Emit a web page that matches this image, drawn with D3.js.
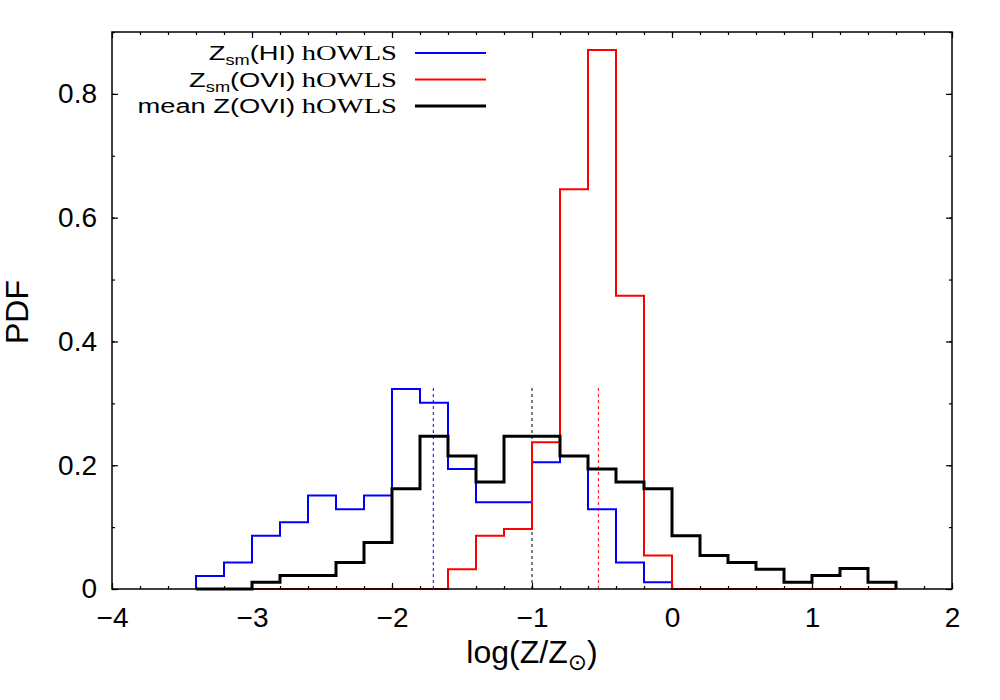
<!DOCTYPE html>
<html>
<head>
<meta charset="utf-8">
<script src="https://cdn.jsdelivr.net/npm/d3@7"></script>
<style>
  body { margin: 0; background: #fff; }
  text { fill: #000; }
  .sans { font-family: "Liberation Sans", Arial, sans-serif; }
  .serif { font-family: "Liberation Serif", "Times New Roman", "DejaVu Serif", serif; }
</style>
</head>
<body>
<div id="chart"></div>
<script>
// bin left edges (bin width 0.2)
var edgesHI  = [-3.4, -3.2, -3.0, -2.8, -2.6, -2.4, -2.2, -2.0, -1.8, -1.6, -1.4, -1.2, -1.0, -0.8, -0.6, -0.4, -0.2];
var edgesOVI = [-3.0, -2.8, -2.6, -2.4, -2.2, -2.0, -1.8, -1.6, -1.4, -1.2, -1.0, -0.8, -0.6, -0.4, -0.2,
                0.0, 0.2, 0.4, 0.6, 0.8, 1.0, 1.2, 1.4];
var edgesMean = [-3.4, -3.2, -3.0, -2.8, -2.6, -2.4, -2.2, -2.0, -1.8, -1.6, -1.4, -1.2, -1.0, -0.8, -0.6, -0.4, -0.2,
                 0.0, 0.2, 0.4, 0.6, 0.8, 1.0, 1.2, 1.4];
var binWidth = 0.2;

// PDF values
var pdfHI   = [0.021, 0.043, 0.086, 0.108, 0.151, 0.129, 0.151, 0.323, 0.301, 0.194, 0.140, 0.140, 0.205, 0.215, 0.129, 0.043, 0.011];
var pdfOVI  = [0, 0, 0, 0, 0, 0, 0, 0.032, 0.086, 0.097, 0.237, 0.646, 0.871, 0.474, 0.054,
               0, 0, 0, 0, 0, 0, 0, 0];
var pdfMean = [0, 0, 0.011, 0.022, 0.022, 0.043, 0.075, 0.162, 0.247, 0.215, 0.173, 0.247, 0.247, 0.215, 0.194, 0.173, 0.162,
               0.086, 0.054, 0.043, 0.032, 0.011, 0.022, 0.033, 0.011];

// median markers
var medianX = [-1.705, -1.0, -0.526];
var medianColor = ["#0000ff", "#000000", "#ff0000"];
var medianTop = 0.325;

var xTicks = [-4, -3, -2, -1, 0, 1, 2];
var yTicks = [0, 0.2, 0.4, 0.6, 0.8];

var width = 1000, height = 700;
var svg = d3.select("#chart").append("svg")
    .attr("width", width)
    .attr("height", height);

var x = d3.scaleLinear().domain([-4, 2]).range([112, 952]);
var y = d3.scaleLinear().domain([0, 0.9]).range([589, 32]);

// ticks (inward, mirrored)
function minorX() { return d3.range(-4, 2.001, 0.2).map(function(d){ return Math.round(d*10)/10; }); }
function minorY() { return d3.range(0, 0.901, 0.1).map(function(d){ return Math.round(d*10)/10; }); }

svg.append("g").attr("transform", "translate(0,589)")
    .call(d3.axisBottom(x).tickValues(minorX()).tickSize(-3).tickFormat(""));
svg.append("g").attr("transform", "translate(0,32)")
    .call(d3.axisTop(x).tickValues(minorX()).tickSize(-3).tickFormat(""));
svg.append("g").attr("transform", "translate(112,0)")
    .call(d3.axisLeft(y).tickValues(minorY()).tickSize(-3).tickFormat(""));
svg.append("g").attr("transform", "translate(952,0)")
    .call(d3.axisRight(y).tickValues(minorY()).tickSize(-3).tickFormat(""));

var xAxis = svg.append("g").attr("class", "xaxis").attr("transform", "translate(0,589)")
    .call(d3.axisBottom(x).tickValues(xTicks).tickSize(-6).tickPadding(18)
        .tickFormat(function(d){ return d < 0 ? "\u2212" + Math.abs(d) : d; }));
svg.append("g").attr("transform", "translate(0,32)")
    .call(d3.axisTop(x).tickValues(xTicks).tickSize(-6).tickFormat(""));
var yAxis = svg.append("g").attr("class", "yaxis").attr("transform", "translate(112,0)")
    .call(d3.axisLeft(y).tickValues(yTicks).tickSize(-6).tickPadding(15)
        .tickFormat(function(d){ return d === 0 ? "0" : d3.format(".1f")(d); }));
svg.append("g").attr("transform", "translate(952,0)")
    .call(d3.axisRight(y).tickValues(yTicks).tickSize(-6).tickFormat(""));

svg.selectAll(".domain").remove();
svg.selectAll(".tick line").attr("stroke", "#000").attr("stroke-width", 1.2);
svg.selectAll(".xaxis text, .yaxis text")
    .attr("font-family", null)
    .attr("class", "sans")
    .style("font-size", "28px")
    .attr("fill", "#000");

// median dashed lines
svg.append("g").selectAll("line")
    .data(medianX)
    .enter().append("line")
    .attr("x1", function(d){ return x(d); })
    .attr("x2", function(d){ return x(d); })
    .attr("y1", y(0))
    .attr("y2", y(medianTop))
    .attr("stroke", function(d, i){ return medianColor[i]; })
    .attr("stroke-width", 1)
    .attr("stroke-dasharray", "3,3");

// histogram outlines
function stepPoints(edges, vals) {
    var pts = [[edges[0], 0]];
    vals.forEach(function(v, i){
        pts.push([edges[i], v]);
        pts.push([edges[i] + binWidth, v]);
    });
    pts.push([edges[edges.length - 1] + binWidth, 0]);
    return pts;
}
var line = d3.line()
    .x(function(d){ return x(d[0]); })
    .y(function(d){ return y(d[1]); });

var series = [
    {edges: edgesHI, vals: pdfHI, color: "#0000ff", w: 2},
    {edges: edgesOVI, vals: pdfOVI, color: "#ff0000", w: 2},
    {edges: edgesMean, vals: pdfMean, color: "#000000", w: 3}
];
svg.append("g").selectAll("path")
    .data(series)
    .enter().append("path")
    .attr("d", function(d){ return line(stepPoints(d.edges, d.vals)); })
    .attr("fill", "none")
    .attr("stroke", function(d){ return d.color; })
    .attr("stroke-width", function(d){ return d.w; })
    .attr("stroke-linejoin", "miter");

// frame
svg.append("rect")
    .attr("x", 112).attr("y", 32)
    .attr("width", 840).attr("height", 557)
    .attr("fill", "none")
    .attr("stroke", "#000")
    .attr("stroke-width", 1.5);

// legend (glyphs in the original are wide, so stretch horizontally)
var legendRows = [
    {main: "Z", sub: "sm", rest: "(HI) ", serif: "hOWLS", color: "#0000ff", w: 2},
    {main: "Z", sub: "sm", rest: "(OVI) ", serif: "hOWLS", color: "#ff0000", w: 2},
    {main: "mean Z(OVI) ", sub: null, rest: "", serif: "hOWLS", color: "#000000", w: 3}
];
var lg = svg.append("g");
legendRows.forEach(function(r, i){
    var ly = 53 + i * 26.5;
    var row = lg.append("g")
        .attr("transform", "translate(397," + (ly + 7) + ") scale(1.3,1)");
    var s = row.append("text")
        .attr("class", "serif")
        .attr("text-anchor", "end")
        .style("font-size", "22px")
        .text(r.serif);
    var sw = s.node().getComputedTextLength();
    var t = row.append("text")
        .attr("class", "sans")
        .attr("x", -sw - 5)
        .attr("text-anchor", "end")
        .style("font-size", "21px");
    t.append("tspan").text(r.main);
    if (r.sub) {
        t.append("tspan").attr("dy", 5).style("font-size", "14px").text(r.sub);
        t.append("tspan").attr("dy", -5).text(r.rest.trim());
    } else {
        t.text(r.main.trim());
    }
    lg.append("line")
        .attr("x1", 415).attr("x2", 486)
        .attr("y1", ly).attr("y2", ly)
        .attr("stroke", r.color)
        .attr("stroke-width", r.w);
});

// axis labels
var xl = svg.append("text")
    .attr("class", "sans")
    .attr("x", 532).attr("y", 663)
    .attr("text-anchor", "middle")
    .style("font-size", "32px");
xl.append("tspan").text("log(Z/Z");
xl.append("tspan").attr("dy", 7)
    .style("font-family", "DejaVu Sans, sans-serif")
    .style("font-size", "23px")
    .text("\u2299");
xl.append("tspan").attr("dy", -7).text(")");

svg.append("text")
    .attr("class", "sans")
    .attr("transform", "translate(28,312) rotate(-90)")
    .attr("text-anchor", "middle")
    .style("font-size", "32px")
    .text("PDF");
</script>
</body>
</html>
